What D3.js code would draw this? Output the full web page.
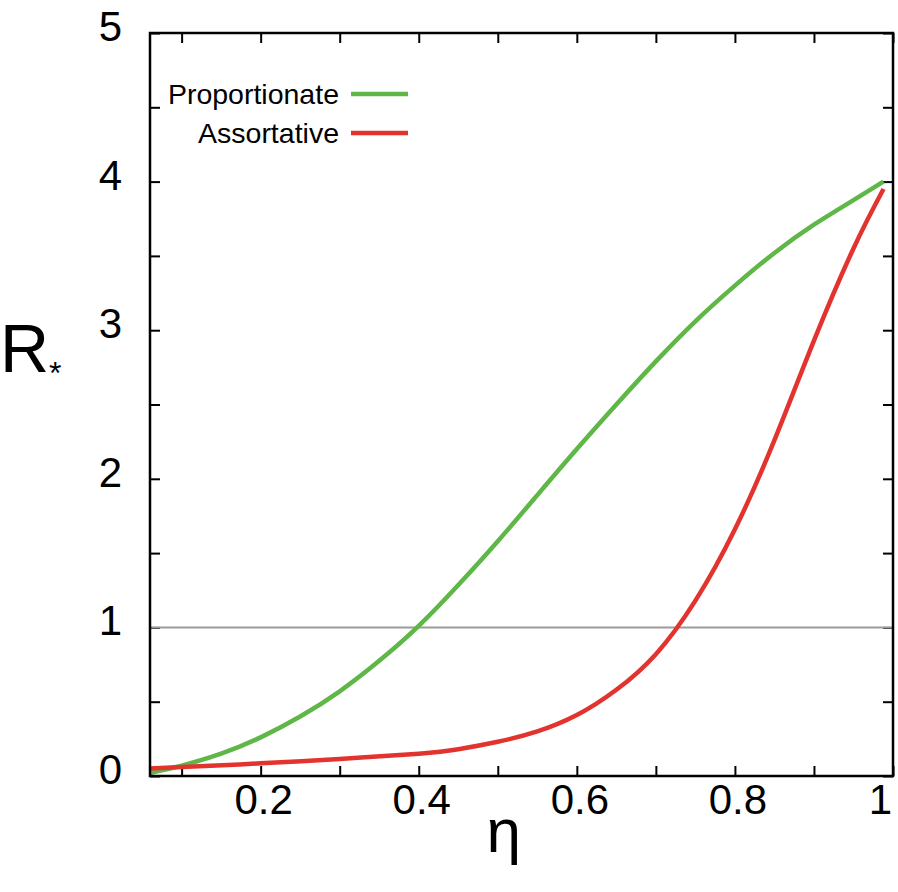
<!DOCTYPE html>
<html>
<head>
<meta charset="utf-8">
<script src="https://cdn.jsdelivr.net/npm/d3@7"></script>
<style>
  body { margin: 0; background: #fff; }
  svg text { font-family: "Liberation Sans", Arial, Helvetica, sans-serif; fill: #000; }
</style>
</head>
<body>
<svg id="chart"></svg>
<script>
// values
var etaProp = [0.06, 0.1, 0.15, 0.2, 0.25, 0.3, 0.35, 0.4, 0.45, 0.5, 0.55, 0.6, 0.65, 0.7, 0.75, 0.8, 0.85, 0.9, 0.95, 0.988];
var rProp   = [0.02, 0.07, 0.15, 0.26, 0.40, 0.57, 0.775, 1.01, 1.285, 1.58, 1.89, 2.2, 2.5, 2.79, 3.06, 3.3, 3.52, 3.71, 3.875, 4.0];

var etaAss = [0.06, 0.1, 0.2, 0.3, 0.4, 0.45, 0.5, 0.55, 0.6, 0.65, 0.7, 0.75, 0.8, 0.85, 0.9, 0.95, 0.988];
var rAss   = [0.05, 0.06, 0.085, 0.115, 0.15, 0.18, 0.23, 0.30, 0.41, 0.58, 0.82, 1.18, 1.66, 2.26, 2.93, 3.55, 3.95];

var seriesNames = ['Proportionate', 'Assortative'];
var seriesColors = ['#5fb748', '#e3332f'];

var xTickLabels = [0.2, 0.4, 0.6, 0.8, 1];
var yTickLabels = [0, 1, 2, 3, 4, 5];
var thresholdR = 1;

var margin = {top: 33, right: 5, bottom: 116, left: 150},
    W = 898, H = 892,
    width = W - margin.left - margin.right,
    height = H - margin.top - margin.bottom;

var svg = d3.select('#chart').attr('width', W).attr('height', H)
  .append('g')
  .attr('transform', 'translate(' + margin.left + ',' + margin.top + ')');

var x = d3.scaleLinear().domain([0.06, 1.0]).range([0, width]);
var y = d3.scaleLinear().domain([0, 5]).range([height, 0]);

var xMinor = d3.range(1, 11).map(function(i) { return i / 10; });
var yMinor = d3.range(0, 11).map(function(i) { return i / 2; });

// tick marks on all four sides, pointing inward
var tickLen = 10;
function tickAxis(axis, ticks, transform) {
  svg.append('g')
    .attr('transform', transform)
    .call(axis.tickValues(ticks).tickSize(tickLen).tickFormat(''))
    .call(function(g) {
      g.select('.domain').remove();
      g.selectAll('line').attr('stroke', '#000').attr('stroke-width', 2);
    });
}
tickAxis(d3.axisTop(x), xMinor, 'translate(0,' + height + ')');
tickAxis(d3.axisBottom(x), xMinor, 'translate(0,0)');
tickAxis(d3.axisRight(y), yMinor, 'translate(0,0)');
tickAxis(d3.axisLeft(y), yMinor, 'translate(' + width + ',0)');

// tick labels
svg.append('g').selectAll('text')
  .data(xTickLabels)
  .enter().append('text')
  .attr('x', function(d) { return d === 1 ? x(d) - 1 : x(d) + 3; })
  .attr('y', height + 38)
  .attr('text-anchor', function(d) { return d === 1 ? 'end' : 'middle'; })
  .style('font-size', '42px')
  .text(function(d) { return d; });

svg.append('g').selectAll('text')
  .data(yTickLabels)
  .enter().append('text')
  .attr('x', -28)
  .attr('y', function(d) { return y(d) + 8; })
  .attr('text-anchor', 'end')
  .style('font-size', '42px')
  .text(function(d) { return d; });

// threshold line
svg.append('line')
  .attr('x1', 0).attr('x2', width)
  .attr('y1', y(thresholdR)).attr('y2', y(thresholdR))
  .attr('stroke', '#9a9a9a').attr('stroke-width', 2);

var line = d3.line()
  .x(function(d) { return x(d[0]); })
  .y(function(d) { return y(d[1]); })
  .curve(d3.curveNatural);

var curves = [d3.zip(etaProp, rProp), d3.zip(etaAss, rAss)];

svg.selectAll('.curve')
  .data(curves)
  .enter().append('path')
  .attr('class', 'curve')
  .attr('d', line)
  .attr('fill', 'none')
  .attr('stroke', function(d, i) { return seriesColors[i]; })
  .attr('stroke-width', 4.5);

// frame
svg.append('rect')
  .attr('width', width).attr('height', height)
  .attr('fill', 'none').attr('stroke', '#000').attr('stroke-width', 2.5);

// legend
var legend = svg.selectAll('.legend')
  .data(seriesNames)
  .enter().append('g')
  .attr('class', 'legend')
  .attr('transform', function(d, i) { return 'translate(0,' + (61 + i * 39) + ')'; });

legend.append('text')
  .attr('x', 189)
  .attr('y', 10)
  .attr('text-anchor', 'end')
  .style('font-size', '28.5px')
  .text(function(d) { return d; });

legend.append('line')
  .attr('x1', 201).attr('x2', 258)
  .attr('stroke', function(d, i) { return seriesColors[i]; })
  .attr('stroke-width', 4.5);

// axis titles
svg.append('text')
  .attr('x', x(0.5) + 6)
  .attr('y', height + 76)
  .attr('text-anchor', 'middle')
  .style('font-size', '62px')
  .text('η');

var rLabel = d3.select('#chart').append('text')
  .attr('x', 0)
  .attr('y', 372)
  .style('font-size', '68px');
rLabel.append('tspan').text('R');
rLabel.append('tspan')
  .attr('dy', 12)
  .style('font-size', '32px')
  .text('*');
</script>
</body>
</html>
